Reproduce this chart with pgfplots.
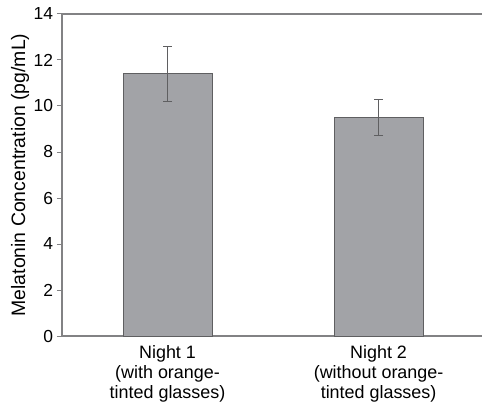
\documentclass[border=0pt]{standalone}
\usepackage{pgfplots}
\pgfplotsset{compat=1.18}
\usepackage{fontspec}
\setmainfont{Liberation Sans}
\definecolor{barfill}{RGB}{162,163,167}
\definecolor{bardraw}{RGB}{95,95,97}
\definecolor{axisgray}{RGB}{130,130,132}
\begin{document}
\begin{tikzpicture}
\begin{axis}[
  name=ax,
  scale only axis,
  width=420bp, height=322bp,
  xmin=-0.5, xmax=1.49,
  ymin=0, ymax=14,
  ytick={0,2,...,14},
  axis x line=box, axis y line=left,
  axis line style={axisgray, line width=1.3pt, -},
  xtick={0,1},
  xticklabels={{Night 1\\(with orange-\\tinted glasses)},{Night 2\\(without orange-\\tinted glasses)}},
  xticklabel style={align=center, font=\fontsize{18}{20}\selectfont, yshift=-1bp},
  x tick style={draw=none},
  extra x ticks={0.5},
  extra x tick labels={},
  extra x tick style={tick style={draw=axisgray, line width=1pt}, tick align=outside, major tick length=5bp},
  y tick style={draw=axisgray, line width=1pt},
  tick align=outside,
  major tick length=5bp,
  yticklabel style={font=\fontsize{17.5}{20}\selectfont, xshift=-0.5bp},
  /pgf/number format/assume math mode=true,
  ylabel={Melatonin Concentration (pg/mL)},
  ylabel style={font=\fontsize{19.5}{22}\selectfont, at={(axis description cs:-0.1,0.5)}, anchor=center},
  ybar, bar width=89bp,
  clip=false,
]
\addplot[fill=barfill, draw=bardraw, line width=1pt,
  error bars/.cd, y dir=both, y explicit,
  error bar style={draw=bardraw, line width=0.9pt},
  error mark options={rotate=90, mark size=4.5bp, draw=bardraw, line width=0.9pt}]
  coordinates {(0,11.4) +- (0,1.2) (1,9.5) +- (0,0.8)};
\end{axis}
\pgfresetboundingbox
\path ([xshift=-62bp,yshift=-72bp]ax.south west) rectangle ([yshift=14bp]ax.north east);
\end{tikzpicture}
\end{document}
